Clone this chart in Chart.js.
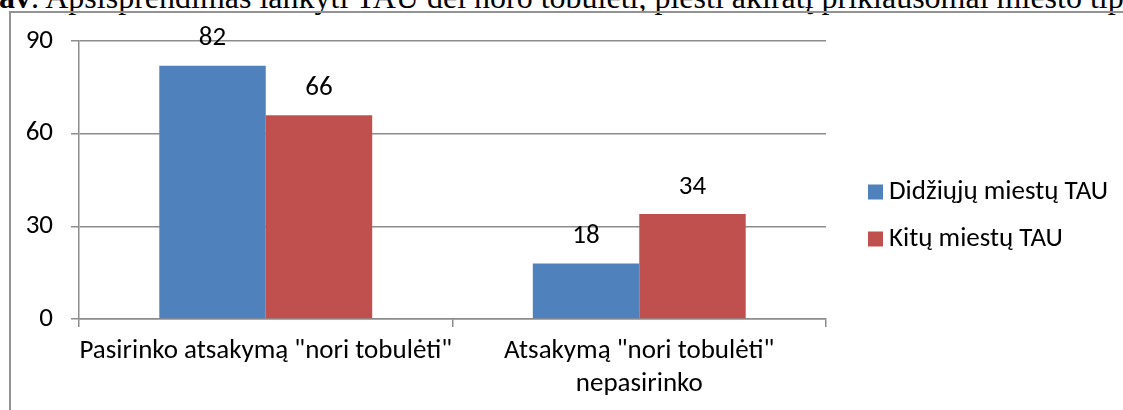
<!DOCTYPE html>
<html>
<head>
<meta charset="utf-8">
<script src="https://cdn.jsdelivr.net/npm/chart.js@4"></script>
<style>
  body { margin: 0; background: #fff; overflow: hidden; }
  #wrap { position: relative; width: 1123px; height: 410px; overflow: hidden; }
  #caption {
    position: absolute; left: -1px; top: -21px; white-space: nowrap;
    font-family: "Liberation Serif", "Times New Roman", serif; font-size: 32px; line-height: 1.15;
    color: #000;
  }
  #frame {
    position: absolute; left: 9px; top: 11px; width: 1200px; height: 500px;
    border-left: 2px solid #939393; border-top: 2px solid #939393;
  }
  #chartBox { position: absolute; left: 0; top: 0; width: 1123px; height: 410px; }
</style>
</head>
<body>
<div id="wrap">
  <div id="caption"><b>av</b>. Apsisprendimas lankyti TAU dėl noro tobulėti, plėsti akiratį priklausomai miesto tipo</div>
  <div id="frame"></div>
  <div id="chartBox"><canvas id="barChart" width="1123" height="410"></canvas></div>
</div>
<script>
const categories = [
    'Pasirinko atsakymą "nori tobulėti"',
    ['Atsakymą "nori tobulėti"', 'nepasirinko'],
];
const seriesNames = ['Didžiųjų miestų TAU', 'Kitų miestų TAU'];
const bigCities = [82, 18];
const otherCities = [66, 34];
const yTicks = [0, 30, 60, 90];

const blue = '#4f81bd';
const red = '#c0504d';
const axisGray = '#8c8c8c';
const fontFamily = 'Carlito, Lato, "Open Sans", sans-serif';
const textSize = 27;
const legendSize = 27;

// подписи значений над столбцами
const valueLabels = {
    id: 'valueLabels',
    afterDatasetsDraw(chart) {
        const ctx = chart.ctx;
        ctx.save();
        ctx.font = textSize + 'px ' + fontFamily;
        ctx.fillStyle = '#000';
        ctx.textAlign = 'center';
        ctx.textBaseline = 'middle';
        chart.data.datasets.forEach((ds, i) => {
            chart.getDatasetMeta(i).data.forEach((bar, j) => {
                ctx.fillText(ds.data[j], bar.x, bar.y - 27);
            });
        });
        ctx.restore();
    },
};

// легенда справа
const sideLegend = {
    id: 'sideLegend',
    afterDraw(chart) {
        const ctx = chart.ctx;
        ctx.save();
        ctx.font = legendSize + 'px ' + fontFamily;
        ctx.textBaseline = 'middle';
        chart.data.datasets.forEach((ds, i) => {
            const cy = 192 + i * 47;
            ctx.fillStyle = ds.backgroundColor;
            ctx.fillRect(868, cy - 7.5, 15, 15);
            ctx.fillStyle = '#000';
            ctx.fillText(ds.label, 889, cy);
        });
        ctx.restore();
    },
};

new Chart(document.getElementById('barChart').getContext('2d'), {
    type: 'bar',
    data: {
        labels: categories,
        datasets: [
            { label: seriesNames[0], data: bigCities, backgroundColor: blue },
            { label: seriesNames[1], data: otherCities, backgroundColor: red },
        ],
    },
    options: {
        responsive: false,
        animation: false,
        devicePixelRatio: 1,
        layout: { padding: { left: 0, right: 297, top: 41, bottom: 0 } },
        datasets: { bar: { categoryPercentage: 0.57, barPercentage: 1.0 } },
        plugins: { legend: { display: false }, tooltip: { enabled: false } },
        scales: {
            x: {
                grid: { drawOnChartArea: false, drawTicks: true, tickLength: 8, color: axisGray, lineWidth: 1.5, offset: true },
                border: { color: axisGray, width: 1.5 },
                ticks: { color: '#000', font: { family: fontFamily, size: textSize, lineHeight: 1.22 }, padding: 8, maxRotation: 0, autoSkip: false },
                afterFit(scale) { scale.height = 91; },
            },
            y: {
                min: 0,
                max: 90,
                afterBuildTicks(scale) { scale.ticks = yTicks.map(v => ({ value: v })); },
                grid: { color: axisGray, lineWidth: 1.5, tickLength: 8 },
                border: { color: axisGray, width: 1.5 },
                ticks: { color: '#000', font: { family: fontFamily, size: textSize }, padding: 18 },
                afterFit(scale) { scale.width = 79; },
            },
        },
    },
    plugins: [valueLabels, sideLegend],
});
</script>
</body>
</html>
